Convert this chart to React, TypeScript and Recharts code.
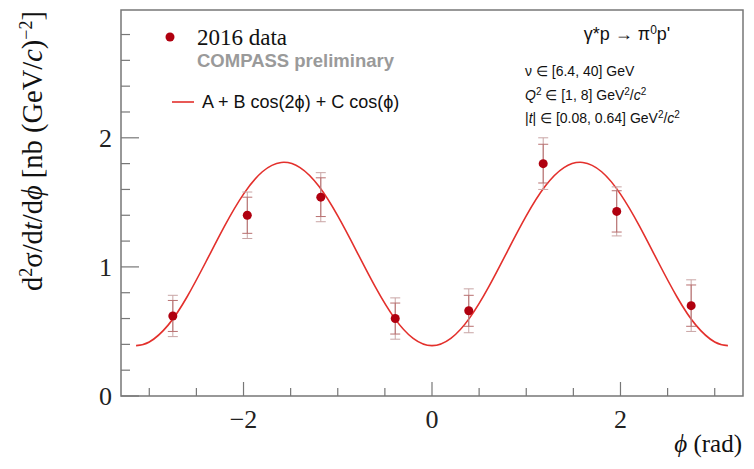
import { ComposedChart, Line, Scatter, ErrorBar, XAxis, YAxis, ReferenceArea } from "recharts"

// measured points (bin centres in phi)
const phiBins = [-2.75, -1.96, -1.18, -0.39, 0.39, 1.18, 1.96, 2.75]
const xsec = [0.62, 1.4, 1.54, 0.6, 0.66, 1.8, 1.43, 0.7]
const statErr = [0.12, 0.14, 0.15, 0.12, 0.12, 0.15, 0.16, 0.16]
const totErr = [0.16, 0.18, 0.19, 0.16, 0.17, 0.2, 0.19, 0.2]

// fit curve
const fitPhi = [
    -3.14, -3.0, -2.8, -2.6, -2.4, -2.2, -2.0, -1.8, -1.6, -1.4, -1.2, -1.0, -0.8, -0.6, -0.4, -0.2, 0,
    0.2, 0.4, 0.6, 0.8, 1.0, 1.2, 1.4, 1.6, 1.8, 2.0, 2.2, 2.4, 2.6, 2.8, 3.0, 3.14,
]
const fitVal = [
    0.39, 0.418, 0.549, 0.767, 1.038, 1.318, 1.564, 1.737, 1.809, 1.769, 1.624, 1.395, 1.121, 0.843, 0.605, 0.446, 0.39,
    0.446, 0.605, 0.843, 1.121, 1.395, 1.624, 1.769, 1.809, 1.737, 1.564, 1.318, 1.038, 0.767, 0.549, 0.418, 0.39,
]

const xTicks = [-3, -2.5, -2, -1.5, -1, -0.5, 0, 0.5, 1, 1.5, 2, 2.5, 3]
const xLabels = [-2, 0, 2]
const yTicks = [0, 0.2, 0.4, 0.6, 0.8, 1, 1.2, 1.4, 1.6, 1.8, 2, 2.2, 2.4, 2.6, 2.8]
const yLabels = [0, 1, 2]

const points = phiBins.map((x, i) => ({ x, y: xsec[i], stat: statErr[i], tot: totErr[i] }))
const curve = fitPhi.map((x, i) => ({ x, y: fitVal[i] }))

const serif = "'Liberation Serif', 'DejaVu Serif', serif"
const sans = "'Liberation Sans', Arial, sans-serif"
const axisColor = "#777"
const dotColor = "#b0000f"
const lineColor = "#e3302c"

const fmt = (v: number) => (v < 0 ? `\u2212${-v}` : `${v}`)

function XTick(props: any) {
    const { x, y, payload } = props
    const major = xLabels.includes(payload.value)
    return (
        <g>
            <line x1={x} y1={y} x2={x} y2={y - (major ? 14 : 8)} stroke={axisColor} strokeWidth={1.2} />
            {major && (
                <text x={x} y={y + 32} textAnchor="middle" fontFamily={serif} fontSize={26} fill="#222">
                    {fmt(payload.value)}
                </text>
            )}
        </g>
    )
}

function YTick(props: any) {
    const { x, y, payload } = props
    const major = yLabels.includes(payload.value)
    return (
        <g>
            <line x1={x} y1={y} x2={x + (major ? 18 : 9)} y2={y} stroke={axisColor} strokeWidth={1.2} />
            {major && (
                <text x={x - 9} y={y + 9} textAnchor="end" fontFamily={serif} fontSize={26} fill="#222">
                    {payload.value}
                </text>
            )}
        </g>
    )
}

const Dot = (props: any) => <circle cx={props.cx} cy={props.cy} r={4.5} fill={dotColor} />

export default function App() {
    return (
        <div style={{ position: "absolute", left: 0, top: 0, width: 754, height: 469, background: "#fff" }}>
            <ComposedChart width={754} height={469} margin={{ top: 10, right: 11, bottom: 33, left: 61 }}>
                <XAxis
                    type="number"
                    dataKey="x"
                    domain={[-3.3, 3.3]}
                    ticks={xTicks}
                    interval={0}
                    allowDataOverflow
                    axisLine={false}
                    tickLine={false}
                    tickSize={0}
                    tickMargin={0}
                    height={40}
                    tick={<XTick />}
                />
                <YAxis
                    type="number"
                    dataKey="y"
                    domain={[0, 2.99]}
                    ticks={yTicks}
                    interval={0}
                    allowDataOverflow
                    axisLine={false}
                    tickLine={false}
                    tickSize={0}
                    tickMargin={0}
                    width={60}
                    tick={<YTick />}
                />
                <ReferenceArea x1={-3.3} x2={3.3} y1={0} y2={2.99} fill="none" stroke={axisColor} strokeWidth={1.5} />
                <Line
                    data={curve}
                    dataKey="y"
                    type="natural"
                    stroke={lineColor}
                    strokeWidth={1.6}
                    dot={false}
                    activeDot={false}
                    isAnimationActive={false}
                />
                <Scatter data={points} shape={<Dot />} isAnimationActive={false}>
                    <ErrorBar dataKey="tot" direction="y" width={5} stroke="#c9a5a5" strokeWidth={1} />
                    <ErrorBar dataKey="stat" direction="y" width={5} stroke="#b87070" strokeWidth={1} />
                </Scatter>
            </ComposedChart>
            <svg width={754} height={469} style={{ position: "absolute", left: 0, top: 0, pointerEvents: "none" }}>
                {/* legend */}
                <circle cx={170} cy={37} r={4.5} fill={dotColor} />
                <text x={197} y={45} fontFamily={serif} fontSize={23} fill="#111">2016 data</text>
                <text x={197} y={67} fontFamily={sans} fontSize={18.5} fontWeight="bold" fill="#9a9a9a">COMPASS preliminary</text>
                <line x1={172} y1={102} x2={194} y2={102} stroke={lineColor} strokeWidth={1.6} />
                <text x={202} y={108} fontFamily={sans} fontSize={18} fill="#111">
                    A + B cos(2ϕ) + C cos(ϕ)
                </text>
                {/* kinematics */}
                <text x={627} y={40} textAnchor="middle" fontFamily={sans} fontSize={18} fill="#111">
                    γ*p  →  π<tspan dy={-6} fontSize={12}>0</tspan><tspan dy={6}>p'</tspan>
                </text>
                <text x={525} y={76} fontFamily={sans} fontSize={14} fill="#111">ν ∈ [6.4, 40] GeV</text>
                <text x={525} y={100} fontFamily={sans} fontSize={14} fill="#111">
                    <tspan fontStyle="italic">Q</tspan><tspan dy={-5} fontSize={10}>2</tspan>
                    <tspan dy={5}> ∈ [1, 8] GeV</tspan><tspan dy={-5} fontSize={10}>2</tspan>
                    <tspan dy={5}>/</tspan><tspan fontStyle="italic">c</tspan><tspan dy={-5} fontSize={10}>2</tspan>
                </text>
                <text x={525} y={123} fontFamily={sans} fontSize={14} fill="#111">
                    |<tspan fontStyle="italic">t</tspan>| ∈ [0.08, 0.64] GeV<tspan dy={-5} fontSize={10}>2</tspan>
                    <tspan dy={5}>/</tspan><tspan fontStyle="italic">c</tspan><tspan dy={-5} fontSize={10}>2</tspan>
                </text>
                {/* axis titles */}
                <text x={742} y={452} textAnchor="end" fontFamily={serif} fontSize={25} fill="#111">
                    <tspan fontStyle="italic">ϕ</tspan> (rad)
                </text>
                <text
                    transform="translate(42, 11) rotate(-90)"
                    textAnchor="end"
                    fontFamily={serif}
                    fontSize={28.5}
                    fill="#111"
                >
                    d<tspan dy={-10} fontSize={18}>2</tspan>
                    <tspan dy={10}>σ/d</tspan><tspan fontStyle="italic">t</tspan>/d<tspan fontStyle="italic">ϕ</tspan> [nb (GeV/<tspan fontStyle="italic">c</tspan>)
                    <tspan dy={-10} fontSize={18}>−2</tspan><tspan dy={10}>]</tspan>
                </text>
            </svg>
        </div>
    )
}
